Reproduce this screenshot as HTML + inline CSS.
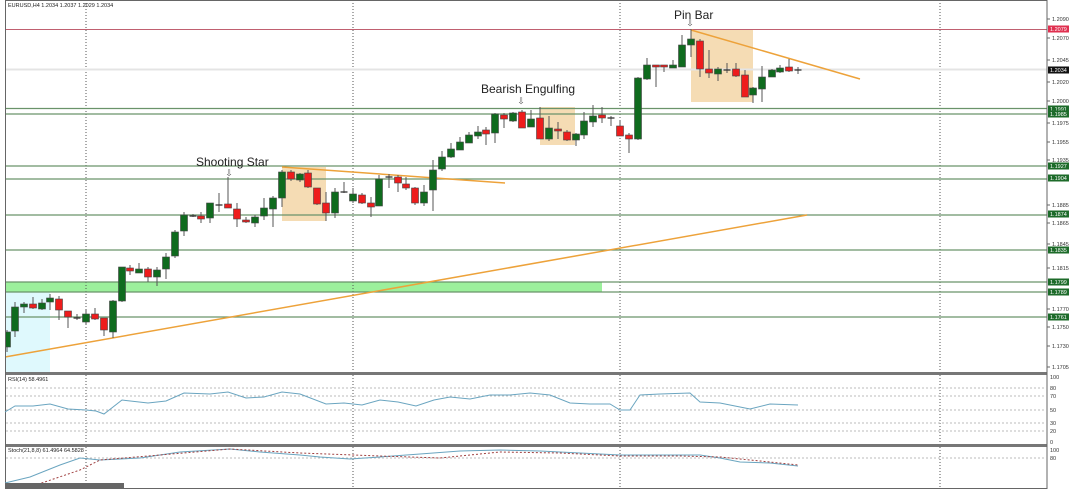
<!DOCTYPE html>
<html><head><meta charset="utf-8"><style>
body{margin:0;background:#fff;width:1071px;height:489px;overflow:hidden;font-family:"Liberation Sans",sans-serif}
svg text{font-family:"Liberation Sans",sans-serif}
</style></head><body>
<svg id="s" width="1071" height="489" xmlns="http://www.w3.org/2000/svg"></svg>
<script>
const s=document.getElementById('s');let h='';
const ax=[[19,'1.2090'],[38,'1.2070'],[60,'1.2045'],[82,'1.2020'],[101,'1.2000'],[123,'1.1975'],[142,'1.1955'],[160,'1.1935'],[205,'1.1885'],[223,'1.1865'],[244,'1.1845'],[268,'1.1815'],[309,'1.1770'],[327,'1.1750'],[346,'1.1730'],[367,'1.1705']];
// regions
h+='<rect x="6" y="292" width="44" height="81" fill="#dff9fd"/>';
h+='<rect x="6" y="282" width="596" height="10" fill="#9cf09c"/>';
h+='<rect x="282" y="167" width="44" height="54" fill="#f5dcb4"/>';
h+='<rect x="540" y="107" width="35" height="38" fill="#f5dcb4"/>';
h+='<rect x="691" y="30" width="62" height="72" fill="#f5dcb4"/>';
// grid verticals
[86,353,620,940].forEach(x=>h+=`<line x1="${x}" y1="0" x2="${x}" y2="489" stroke="#555" stroke-dasharray="1,2" stroke-width="1"/>`);
// horizontal levels
h+='<line x1="6" y1="29.5" x2="1047" y2="29.5" stroke="#c06070"/>';
h+='<line x1="6" y1="69.5" x2="1047" y2="69.5" stroke="#e4e4e4" stroke-width="2"/>';
[108.5,114,166,179,215,250,282,292,317].forEach(y=>h+=`<line x1="6" y1="${y}" x2="1047" y2="${y}" stroke="#6a936a" stroke-width="1.2"/>`);
// trendlines
h+='<line x1="5" y1="357" x2="807" y2="215" stroke="#eda23a" stroke-width="1.5"/>';
h+='<line x1="282" y1="167" x2="505" y2="183" stroke="#eda23a" stroke-width="1.5"/>';
h+='<line x1="691" y1="30" x2="860" y2="79" stroke="#eda23a" stroke-width="1.5"/>';
// candles x,o,c,h,l
const C=[[7,347,332,330,352],[15,331,307,302,337],[24,307,304,302,313],[33,304,308,297,309],[42,309,303,299,310],[50,302,298,294,310],[59,299,310,296,320],[68,311,317,311,328],[77,318,318,314,320],[86,322,314,310,324],[95,314,319,308,320],[104,318,330,318,336],[113,332,301,300,338],[122,301,267,267,302],[130,268,271,265,275],[139,273,269,263,273],[148,269,277,267,282],[157,277,270,267,286],[166,269,257,253,279],[175,256,232,230,258],[184,231,215,212,236],[193,216,216,214,217],[201,216,219,212,223],[210,218,203,203,223],[219,205,205,193,212],[228,204,208,177,208],[237,209,219,203,227],[246,220,222,217,223],[255,223,217,215,227],[264,216,208,198,220],[273,209,198,196,227],[282,198,172,170,207],[291,172,179,170,181],[300,180,174,173,182],[308,173,187,170,188],[317,188,204,188,205],[326,203,213,192,221],[335,213,192,188,218],[344,192,193,182,193],[353,201,194,188,203],[362,195,203,193,204],[371,203,207,197,217],[379,206,179,175,206],[389,177,177,174,188],[398,177,183,175,192],[406,184,188,177,190],[415,188,203,187,205],[424,203,192,185,206],[433,190,170,160,211],[442,169,157,151,171],[451,157,149,143,158],[460,150,142,137,150],[469,143,135,132,143],[478,136,132,126,139],[486,130,134,127,145],[495,133,114,113,143],[504,115,119,113,128],[513,121,113,112,122],[522,112,128,110,128],[531,127,119,110,127],[540,118,139,107,139],[549,139,128,116,141],[558,129,131,122,139],[567,132,140,130,141],[576,140,134,133,146],[584,135,121,112,139],[593,122,116,105,127],[602,115,118,107,123],[611,118,119,116,126],[620,126,136,121,136],[629,135,139,133,153],[638,139,78,77,140],[647,79,65,58,80],[656,65,67,65,87],[664,65,67,65,72],[673,68,65,60,68],[682,67,45,35,67],[691,45,39,29,57],[700,41,69,39,77],[709,69,73,50,78],[718,74,69,67,81],[727,70,70,63,73],[736,69,76,63,77],[745,75,97,70,97],[753,95,88,87,103],[762,89,77,66,102],[772,77,70,69,77],[780,72,68,65,73],[789,67,71,59,72],[798,70,70,67,74]];
C.forEach(([x,o,c,hi,lo])=>{h+=`<line x1="${x}" y1="${hi}" x2="${x}" y2="${lo}" stroke="#555" stroke-width="1"/>`;
const t=Math.min(o,c),b=Math.max(o,c);
if(b-t<1.5)h+=`<line x1="${x-3.5}" y1="${t}" x2="${x+3.5}" y2="${t}" stroke="#333" stroke-width="1.3"/>`;
else h+=`<rect x="${x-3.5}" y="${t}" width="7" height="${b-t}" fill="${c<o?'#0f6b1e':'#ee1c1c'}" stroke="#444" stroke-width="0.6"/>`;});
// labels
h+='<text x="196" y="166" font-size="12" fill="#222">Shooting Star</text><text x="229" y="176" font-size="9" text-anchor="middle" fill="#555">⇩</text>';
h+='<text x="481" y="93" font-size="12" fill="#222">Bearish Engulfing</text><text x="521" y="104" font-size="9" text-anchor="middle" fill="#555">⇩</text>';
h+='<text x="674" y="19" font-size="12" fill="#222">Pin Bar</text><text x="690" y="26" font-size="9" text-anchor="middle" fill="#555">⇩</text>';
h+='<text x="8" y="7" font-size="5.5" fill="#222">EURUSD,H4  1.2034 1.2037 1.2029 1.2034</text>';
// panels
h+='<rect x="5.5" y="0.5" width="1041.5" height="488" fill="none" stroke="#666"/>';
h+='<rect x="5" y="372" width="1042" height="3" fill="#777"/><rect x="5" y="444" width="1042" height="3" fill="#777"/>';
h+='<rect x="0" y="0" width="5" height="489" fill="#fff"/><line x1="5.5" y1="0" x2="5.5" y2="489" stroke="#666"/>';
h+='<line x1="1047" y1="0" x2="1047" y2="489" stroke="#666"/>';
[388,396,410,423,431,458].forEach(y=>h+=`<line x1="6" y1="${y}" x2="1046" y2="${y}" stroke="#bbb" stroke-dasharray="2,2"/>`);
h+='<text x="8" y="381" font-size="5.5" fill="#222">RSI(14) 58.4961</text><text x="8" y="452" font-size="5.5" fill="#222">Stoch(21,8,8) 61.4964 64.5828</text>';
const rsi='5,412 15,406 33,406 50,404 68,409 86,410 96,411 104,414 122,400 148,403 166,401 184,393 210,394 228,392 246,398 264,397 282,392 300,394 326,404 344,403 362,405 380,400 398,402 416,406 434,400 450,397 470,399 490,395 510,395 530,393 550,395 570,403 590,404 610,404 620,410 630,410 640,395 660,394 690,393 700,402 720,403 740,407 750,409 770,404 798,405';
h+=`<polyline points="${rsi}" fill="none" stroke="#6aa5c0" stroke-width="1"/>`;
h+='<polyline points="5,483 30,477 60,465 80,458 100,460 140,458 180,452 230,449 260,452 300,455 320,457 350,459 380,457 420,454 460,451 500,450 540,451 580,453 620,455 660,455 700,455 720,458 740,462 770,463 798,466" fill="none" stroke="#6aa5c0" stroke-width="1"/>';
h+='<polyline points="30,487 80,470 100,460 160,455 230,449 300,453 380,456 440,458 500,452 560,453 620,456 680,456 720,457 760,461 798,465" fill="none" stroke="#a04040" stroke-dasharray="2,2" stroke-width="1"/>';
h+='<rect x="5" y="483" width="119" height="6" fill="#666"/>';
// axis
ax.forEach(([y,t])=>h+=`<line x1="1047" y1="${y}" x2="1050" y2="${y}" stroke="#666"/><text x="1052" y="${y+2}" font-size="5.5" fill="#333">${t}</text>`);
const bx=[[29,'1.2079','#e03050'],[70,'1.2034','#111'],[109,'1.1991','#1d6b2a'],[114,'1.1985','#1d6b2a'],[166,'1.1927','#1d6b2a'],[178,'1.1904','#1d6b2a'],[214,'1.1874','#1d6b2a'],[250,'1.1835','#1d6b2a'],[282,'1.1799','#1d6b2a'],[292,'1.1789','#1d6b2a'],[317,'1.1761','#1d6b2a']];
bx.forEach(([y,t,c])=>h+=`<rect x="1048" y="${y-3.5}" width="21" height="7" fill="${c}"/><text x="1050" y="${y+2}" font-size="5.5" fill="#fff">${t}</text>`);
[[377,'100'],[388,'80'],[396,'70'],[410,'50'],[423,'30'],[431,'20'],[442,'0'],[450,'100'],[458,'80']].forEach(([y,t])=>h+=`<text x="1050" y="${y+2}" font-size="5.5" fill="#333">${t}</text>`);
s.innerHTML=h;
</script>
</body></html>
